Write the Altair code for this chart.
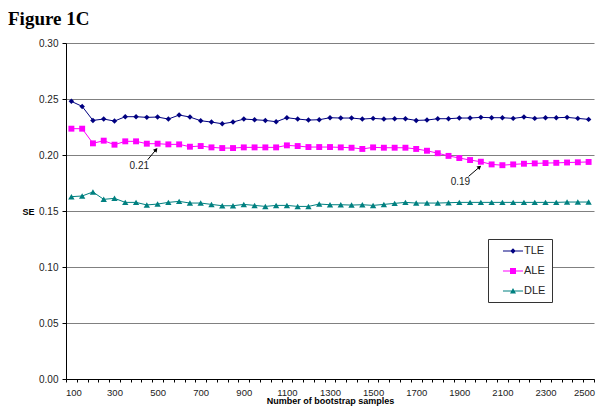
import altair as alt
import pandas as pd

# ---- data -------------------------------------------------------------
samples = list(range(100, 2501, 50))
series = ["TLE", "ALE", "DLE"]
colors = ["#000080", "#FF00FF", "#008080"]
plot_shapes = ["diamond", "square", "triangle-up"]

TLE = [0.2479, 0.2434, 0.2309, 0.2321, 0.2303, 0.2342, 0.2342, 0.2336, 0.2339, 0.2321, 0.2357, 0.2339,
       0.2306, 0.2294, 0.2279, 0.2294, 0.2321, 0.2315, 0.2309, 0.2297, 0.2333, 0.2321, 0.2312, 0.2315,
       0.2333, 0.2330, 0.2330, 0.2321, 0.2327, 0.2321, 0.2324, 0.2324, 0.2309, 0.2312, 0.2324, 0.2324,
       0.2330, 0.2330, 0.2336, 0.2333, 0.2333, 0.2327, 0.2339, 0.2327, 0.2333, 0.2333, 0.2336, 0.2327, 0.2318]
ALE = [0.2235, 0.2235, 0.2104, 0.2128, 0.2092, 0.2122, 0.2122, 0.2101, 0.2101, 0.2095, 0.2095, 0.2074,
       0.2080, 0.2068, 0.2062, 0.2062, 0.2068, 0.2068, 0.2068, 0.2068, 0.2086, 0.2080, 0.2071, 0.2071,
       0.2071, 0.2068, 0.2065, 0.2054, 0.2068, 0.2065, 0.2065, 0.2065, 0.2054, 0.2038, 0.2016, 0.1992,
       0.1973, 0.1955, 0.1940, 0.1916, 0.1909, 0.1916, 0.1922, 0.1925, 0.1928, 0.1930, 0.1933, 0.1935, 0.1938]
DLE = [0.1628, 0.1634, 0.1670, 0.1604, 0.1613, 0.1577, 0.1577, 0.1554, 0.1562, 0.1577, 0.1586, 0.1571,
       0.1571, 0.1559, 0.1547, 0.1547, 0.1559, 0.1550, 0.1541, 0.1550, 0.1550, 0.1541, 0.1541, 0.1562,
       0.1556, 0.1556, 0.1553, 0.1556, 0.1550, 0.1559, 0.1568, 0.1577, 0.1571, 0.1571, 0.1571, 0.1574,
       0.1577, 0.1577, 0.1577, 0.1577, 0.1577, 0.1577, 0.1577, 0.1577, 0.1577, 0.1577, 0.1580, 0.1580, 0.1580]

y_ticks = [0.0, 0.05, 0.10, 0.15, 0.20, 0.25, 0.30]
x_axis_values = list(range(75, 2526, 25))

# annotations: label text and position
ann_text = ["0.21", "0.19"]
ann_tx = [415, 1905]
ann_ty = [0.1904, 0.1755]
# arrows: start -> tip
arr_x = [454, 1943]
arr_y = [0.1958, 0.1809]
arr_x2 = [493, 1994]
arr_y2 = [0.2048, 0.1893]
arr_angle = [40, 50]

# ---- tables -------------------------------------------------------------
rows = []
for name, vals in zip(series, [TLE, ALE, DLE]):
    for s, v in zip(samples, vals):
        rows.append({"x": s, "y": v, "series": name})
df = pd.DataFrame(rows)

labels_df = pd.DataFrame({"text": ann_text, "x": ann_tx, "y": ann_ty})
arrows_df = pd.DataFrame({"x": arr_x, "y": arr_y, "x2": arr_x2, "y2": arr_y2})
heads_df = pd.DataFrame({"x": arr_x2, "y": arr_y2, "angle": arr_angle})

FONT = "Liberation Sans"

x_scale = alt.Scale(domain=[75, 2525], nice=False, zero=False)
y_scale = alt.Scale(domain=[0, 0.30], nice=False, zero=True)
x_axis = alt.Axis(values=x_axis_values, format="d",
                  labelExpr="(datum.value - 100) % 200 === 0 ? datum.label : ''",
                  tickOpacity={"condition": {"test": "(datum.value - 75) % 50 === 0", "value": 1}, "value": 0},
                  labelOverlap=False, labelFlush=6, labelFlushOffset=6, grid=False,
                  tickSize=3, labelPadding=5, domainColor="#000000", tickColor="#000000",
                  labelFont=FONT, labelFontSize=9.5, labelColor="#222222",
                  title="Number of bootstrap samples", titleFont=FONT, titleFontSize=9,
                  titleFontWeight="bold", titleColor="#000000",
                  titleY=24.5, titleBaseline="alphabetic")
y_axis = alt.Axis(values=y_ticks, format=".2f", grid=True, gridColor="#808080",
                  tickSize=4, labelPadding=4, domainColor="#000000", tickColor="#000000",
                  labelFont=FONT, labelFontSize=10, labelColor="#222222",
                  title="SE", titleAngle=0, titleX=-38, titleY=168,
                  titleAlign="center", titleBaseline="middle",
                  titleFont=FONT, titleFontSize=9, titleFontWeight="bold",
                  titleColor="#000000")


def X():
    return alt.X("x:Q", scale=x_scale, axis=x_axis)


def Y():
    return alt.Y("y:Q", scale=y_scale, axis=y_axis)


color_plot = alt.Color("series:N", scale=alt.Scale(domain=series, range=colors), legend=None)

base = alt.Chart(df)
lines = base.mark_line(strokeWidth=1).encode(x=X(), y=Y(), color=color_plot, detail="series:N")
points = base.mark_point(filled=True, opacity=1, strokeWidth=0).encode(
    x=X(), y=Y(), color=color_plot,
    shape=alt.Shape("series:N", scale=alt.Scale(domain=series, range=plot_shapes), legend=None),
    size=alt.Size("series:N", scale=alt.Scale(domain=series, range=[30, 40, 36]), legend=None),
)

# legend-only layer: symbols are a line segment plus the marker
LINE = "M-1.67,-0.09H1.67V0.09H-1.67Z"
legend_paths = [LINE + "M0,-0.45L0.45,0L0,0.45L-0.45,0Z",
                LINE + "M-0.5,-0.5H0.5V0.5H-0.5Z",
                LINE + "M0,-0.5L0.5,0.42L-0.5,0.42Z"]
leg = alt.Legend(title=None, orient="none", legendX=422, legendY=196, padding=6,
                 symbolOffset=13, labelOffset=5, rowPadding=9, symbolSize=144,
                 symbolStrokeWidth=0, strokeColor="#333333", fillColor="#FFFFFF",
                 labelFont=FONT, labelFontSize=11, labelColor="#222222")
legend_layer = base.transform_filter("false").mark_point(filled=True, size=144, strokeWidth=0, opacity=1).encode(
    x=X(), y=Y(),
    color=alt.Color("series:N", scale=alt.Scale(domain=series, range=colors), legend=leg),
    shape=alt.Shape("series:N", scale=alt.Scale(domain=series, range=legend_paths), legend=leg),
)

ann_text_layer = alt.Chart(labels_df).mark_text(font=FONT, fontSize=10, color="#222222",
                                                align="center", baseline="middle").encode(
    x=X(), y=Y(), text="text:N")
ann_rule = alt.Chart(arrows_df).mark_rule(color="#000000", strokeWidth=1).encode(
    x=X(), y=Y(), x2="x2:Q", y2="y2:Q")
ann_head = alt.Chart(heads_df).mark_point(shape="triangle-up", filled=True, color="#000000", size=22,
                                          opacity=1, strokeWidth=0).encode(
    x=X(), y=Y(), angle=alt.Angle("angle:Q", scale=None))

title_layer = alt.Chart(pd.DataFrame({"t": ["Figure 1C"]})).mark_text(
    font="Liberation Serif", fontSize=19, fontWeight="bold", color="#000000",
    align="left", baseline="alphabetic").encode(
    x=alt.value(-58), y=alt.value(-18), text="t:N")

chart = alt.layer(lines, points, legend_layer, ann_rule, ann_head, ann_text_layer, title_layer).resolve_scale(
    color="independent", shape="independent", size="independent"
).properties(
    width=528, height=336,
    autosize=alt.AutoSizeParams(type="none"),
    padding={"left": 58, "top": 35, "right": 2, "bottom": 30},
    background="#FFFFFF",
).configure_view(stroke=None)

chart.save("out.html", embed_options={"renderer": "svg", "actions": False})
